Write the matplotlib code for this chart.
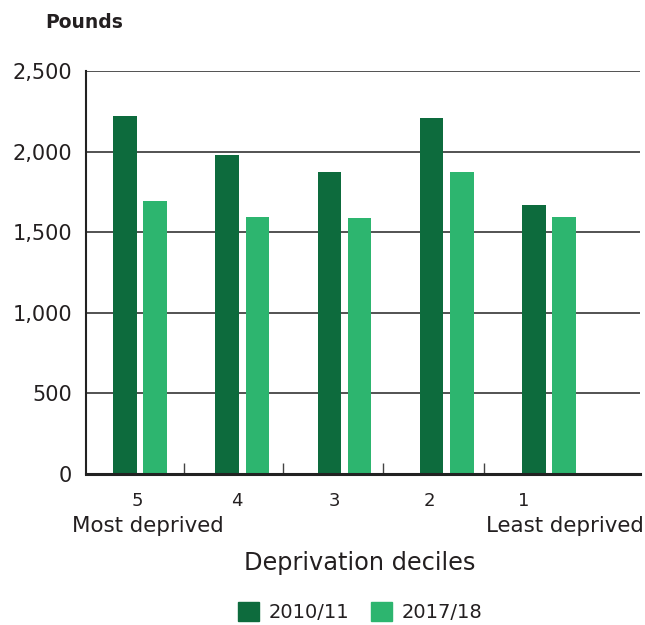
import matplotlib
matplotlib.use("Agg")
import matplotlib.pyplot as plt
from matplotlib.patches import Patch

categories = ["5", "4", "3", "2", "1"]
series_2010 = [2220, 1980, 1875, 2210, 1670]
series_2017 = [1695, 1595, 1585, 1875, 1595]
yticks = [0, 500, 1000, 1500, 2000, 2500]
ytick_labels = ["0", "500", "1,000", "1,500", "2,000", "2,500"]

plt.rcParams['font.family'] = ['DejaVu Sans']
dark = "#0d6b3d"
light = "#2db56f"
txt = "#231f20"

fig = plt.figure(figsize=(6.45, 6.25), dpi=100)
ax = fig.add_axes([86/645, 1 - 474/625, (640-86)/645, (474-71)/625])

x = list(range(len(categories)))
w = 0.228
off = 0.148
ax.bar([i - off for i in x], series_2010, width=w, color=dark, zorder=3)
ax.bar([i + off for i in x], series_2017, width=w, color=light, zorder=3)

ax.set_xlim(-0.528, 4.89)
ax.set_ylim(0, 2500)
ax.set_yticks(yticks)
ax.set_yticklabels(ytick_labels, fontsize=15, color=txt)
ax.tick_params(axis='y', length=0, pad=10)
ax.yaxis.grid(True, color="#444444", linewidth=1.3, zorder=1)

label_pos = [-0.03, 0.945, 1.90, 2.83, 3.75]
ax.set_xticks(label_pos)
ax.set_xticklabels(categories, fontsize=13, color=txt)
ax.tick_params(axis='x', which='major', length=0, pad=13)
ax.set_xticks([0.43, 1.40, 2.38, 3.36], minor=True)
ax.tick_params(axis='x', which='minor', direction='in', length=8, width=1, color="#444444")

for s in ['top', 'right']:
    ax.spines[s].set_visible(False)
ax.spines['left'].set_color("#222222")
ax.spines['left'].set_linewidth(1.5)
ax.spines['bottom'].set_color("#222222")
ax.spines['bottom'].set_linewidth(2.2)
ax.spines['bottom'].set_zorder(4)

fig.text(45/645, 1 - 22/625, "Pounds", fontsize=13.5, color=txt, fontweight='semibold', va='center', ha='left')
fig.text(72/645, 1 - 526/625, "Most deprived", fontsize=15.4, color=txt, va='center', ha='left')
fig.text(644/645, 1 - 526/625, "Least deprived", fontsize=15.4, color=txt, va='center', ha='right')
fig.text(360/645, 1 - 563/625, "Deprivation deciles", fontsize=17.3, color=txt, va='center', ha='center')

handles = [Patch(color=dark, label="2010/11"), Patch(color=light, label="2017/18")]
fig.legend(handles=handles, loc='center', bbox_to_anchor=(360/645, 1 - 612/625), ncol=2,
           frameon=False, fontsize=14, handlelength=1.1, handleheight=1.1, handletextpad=0.5,
           columnspacing=1.1, labelcolor=txt)

fig.savefig("out.png", dpi=100)
